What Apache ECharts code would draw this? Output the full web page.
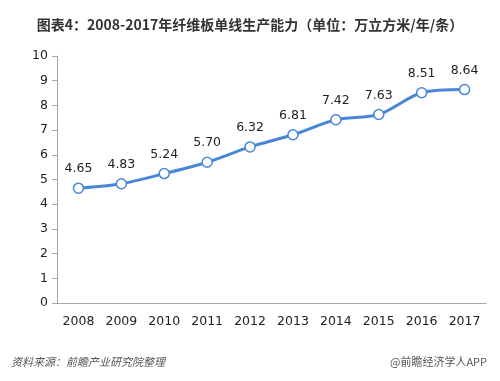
<!DOCTYPE html>
<html><head><meta charset="utf-8">
<script src="https://cdn.jsdelivr.net/npm/echarts@6/dist/echarts.min.js"></script>
<style>html,body{margin:0;padding:0;background:#fff}#c{width:500px;height:381px}</style>
</head><body><div id="c"></div>
<script>
const titleText = '图表4：2008-2017年纤维板单线生产能力（单位：万立方米/年/条）';
const sourceText = '资料来源：前瞻产业研究院整理';
const brandText = '@前瞻经济学人APP';
const categories = ['2008','2009','2010','2011','2012','2013','2014','2015','2016','2017'];
const values = [4.65, 4.83, 5.24, 5.70, 6.32, 6.81, 7.42, 7.63, 8.51, 8.64];
const yMin = 0, yMax = 10, yInterval = 1;

const numFont = '"DejaVu Sans", Verdana, sans-serif';
const chart = echarts.init(document.getElementById('c'), null, {renderer:'canvas'});
chart.setOption({
  animation:false,
  backgroundColor:'#fff',
  title:[
    {text:titleText,left:'center',top:13,textStyle:{fontSize:14,fontWeight:'bold',color:'#333',fontFamily:'"Noto Sans CJK SC", sans-serif'}},
    {text:sourceText,left:6,top:351,textStyle:{fontSize:11,fontWeight:'normal',fontStyle:'italic',color:'#555',fontFamily:'"Noto Sans CJK SC", sans-serif'}},
    {text:brandText,right:8,top:351,textStyle:{fontSize:11,fontWeight:'normal',color:'#555',fontFamily:'"Noto Sans CJK SC", sans-serif'}}
  ],
  grid:{left:57,right:14,top:56,bottom:78,containLabel:false},
  xAxis:{type:'category',data:categories,boundaryGap:true,
    axisLine:{lineStyle:{color:'#a6a6a6',width:1}},
    axisTick:{inside:true,length:4,lineStyle:{color:'#a6a6a6'}},
    axisLabel:{color:'#222',fontSize:12.5,margin:12,fontFamily:numFont},
    splitLine:{show:false}},
  yAxis:{type:'value',min:yMin,max:yMax,interval:yInterval,
    axisLine:{show:true,lineStyle:{color:'#a6a6a6',width:1}},
    axisTick:{show:true,length:5,lineStyle:{color:'#a6a6a6'}},
    axisLabel:{color:'#222',fontSize:12.5,margin:9,fontFamily:numFont},
    splitLine:{show:false}},
  series:[{type:'line',data:values,smooth:0.3,
    symbol:'circle',symbolSize:10,
    lineStyle:{color:'#4a86d8',width:3},
    itemStyle:{color:'#fff',borderColor:'#4a86d8',borderWidth:1.5},
    label:{show:true,position:'top',distance:7,color:'#222',fontSize:12.5,
      formatter:p=>p.value.toFixed(2),fontFamily:numFont}
  }]
});
</script></body></html>
